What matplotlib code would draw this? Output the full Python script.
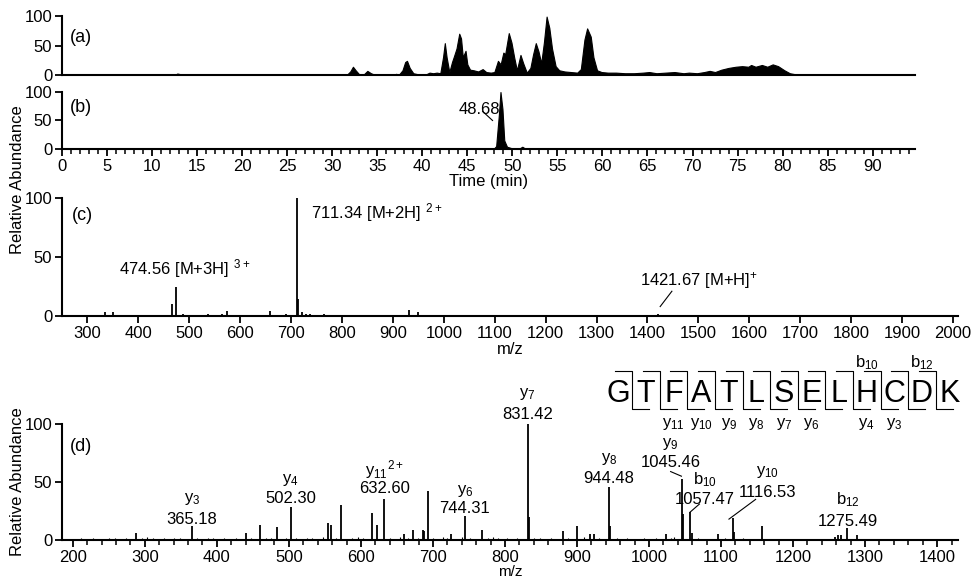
import numpy as np
import matplotlib
matplotlib.use("Agg")
import matplotlib.pyplot as plt

plt.rcParams['font.family'] = ['Liberation Sans', 'DejaVu Sans']
plt.rcParams['mathtext.default'] = 'regular'
plt.rcParams['font.size'] = 12

# (a) total ion chromatogram, time (min) vs relative abundance
time_a = [0.0, 9.7, 9.9, 10.1, 10.8, 11.1, 11.4, 12.5, 12.8, 13.1, 13.5, 14.8, 15.0, 15.3,
          28.8, 29.0, 29.2,
          31.6, 32.0, 32.3, 32.6, 33.0, 33.5, 33.9, 34.3, 34.7,
          36.8, 37.1, 37.4, 37.8, 38.1, 38.3, 38.6, 39.0, 39.6,
          40.4, 40.8, 41.2, 41.6, 42.0, 42.3, 42.5, 42.7, 43.0, 43.3, 43.5, 43.8, 44.1, 44.3,
          44.5, 44.8, 45.0, 45.3, 45.7, 46.2, 46.7, 47.1, 47.6,
          48.0, 48.4, 48.7, 49.0, 49.2, 49.6, 49.9, 50.2, 50.5, 50.9, 51.2, 51.6, 52.0, 52.3,
          52.6, 52.9, 53.2, 53.5, 53.8, 54.1, 54.4, 54.8, 55.2, 55.8, 56.5, 57.2,
          57.6, 58.0, 58.3, 58.7, 59.0, 59.4, 59.9,
          60.6, 61.5, 62.5, 63.5, 64.5, 65.2, 66.0, 67.0, 68.0, 69.0, 69.6, 70.5, 71.3, 71.9, 72.5,
          73.2, 74.0, 74.8, 75.5, 76.2, 76.5, 77.0, 77.7, 78.3, 78.9, 79.5, 80.2, 80.8, 81.5, 82.2, 94.7]
abund_a = [0, 0, 1, 0, 0, 1.5, 0, 0, 2.5, 1.5, 0.5, 0, 1.2, 0,
           0, 1, 0,
           0, 6, 14, 8, 1, 1, 7, 3, 0.5,
           0.5, 2, 0.5, 8, 22, 24, 12, 3, 1,
           1, 4, 3, 4, 3, 30, 54, 30, 5, 22, 31, 45, 70, 62,
           30, 41, 18, 9, 8, 6, 10, 5, 4,
           5, 24, 18, 38, 35, 71, 55, 30, 8, 34, 20, 4, 12, 35,
           54, 40, 20, 55, 99, 80, 45, 15, 8, 6, 5, 4,
           10, 60, 79, 65, 30, 8, 5,
           4, 4, 3, 3, 4, 5, 3, 4, 5, 3, 4, 3, 5, 7, 5,
           9, 12, 14, 15, 14, 17, 14, 17, 14, 18, 15, 8, 3, 1, 0, 0]

# (b) extracted ion chromatogram
time_b = [0.0, 47.9, 48.2, 48.5, 48.68, 48.9, 49.1, 49.4, 50.0, 50.8, 51.1, 51.4, 51.8, 94.7]
abund_b = [0, 0, 5, 60, 100, 70, 15, 4, 1, 1, 4, 1, 0, 0]

# (c) full MS spectrum
mz_c = [311, 334, 351, 383, 466, 474.56, 487, 520, 537, 564, 575, 659, 690,
        711.34, 713, 721, 730, 738, 765, 920, 932, 950, 1421.67, 1850]
int_c = [1, 3, 3, 1, 10, 25, 2, 1, 2, 2, 4, 4, 2,
         100, 14, 3, 2, 2, 2, 1, 5, 3, 1.5, 0.5]

# (d) MS/MS spectrum
mz_d = [288, 365.18, 441, 460, 483, 502.30, 555, 558, 572, 615, 622, 632.60, 660, 672,
        686, 688, 693, 725, 744.31, 768, 831.42, 833, 881, 900, 918, 923, 944.48, 946,
        1024, 1045.46, 1047, 1057.47, 1059, 1096, 1116.53, 1118, 1156.7,
        1258, 1262, 1266, 1275.49, 1289, 1320, 1360]
int_d = [6, 12, 6, 13, 11, 28.5, 15, 13, 30.5, 23, 13, 35.5, 5, 9,
         9, 8, 42, 5, 20.5, 9, 100, 20, 8, 12, 5, 5, 45.5, 12,
         5, 53, 22, 24, 6, 5, 19, 7, 12,
         3, 4, 4, 10.5, 4, 1, 1]
noise_mz_d = [205, 212, 220, 228, 236, 243, 250, 258, 266, 274, 281, 296, 303, 311, 318,
              326, 333, 341, 349, 356, 372, 380, 388, 395, 403, 410, 418, 426, 433, 448,
              455, 468, 475, 490, 496, 510, 517, 525, 532, 540, 547, 565, 580, 588, 596,
              603, 608, 640, 648, 654, 665, 679, 700, 707, 714, 720, 733, 740, 752, 758,
              776, 783, 790, 797, 803, 810, 817, 824, 840, 848, 856, 864, 872, 888, 895,
              910, 930, 955, 962, 970, 978, 985, 993, 1000, 1010, 1018, 1030, 1035, 1068,
              1075, 1083, 1105, 1130, 1138, 1145, 1170, 1185, 1200, 1240, 1300, 1340, 1390]
noise_int_d = [1, 2, 1, 2, 1, 1, 2, 2, 1, 2, 1, 2, 3, 2, 1,
               2, 1, 2, 2, 1, 2, 1, 2, 2, 1, 2, 1, 2, 1, 2,
               1, 2, 2, 1, 2, 2, 1, 2, 2, 1, 3, 2, 1, 2, 3,
               2, 1, 2, 1, 3, 2, 2, 2, 1, 3, 2, 1, 3, 2, 1,
               2, 3, 2, 1, 2, 1, 2, 1, 2, 2, 1, 2, 1, 2, 1,
               3, 2, 2, 1, 2, 1, 1, 2, 1, 2, 1, 2, 3, 2,
               1, 1, 2, 2, 1, 1, 1, 1, 1, 1, 1, 1, 1]

sequence = "GTFATLSELHCDK"
y_labels = {2: "11", 3: "10", 4: "9", 5: "8", 6: "7", 7: "6", 9: "4", 10: "3"}
b_labels = {9: "10", 11: "12"}

W, H = 973, 579
fig = plt.figure(figsize=(W / 100, H / 100), dpi=100)


def px_axes(x0, y0, x1, y1):
    return fig.add_axes([x0 / W, 1 - y1 / H, (x1 - x0) / W, (y1 - y0) / H])


def style(ax):
    for s in ['top', 'right']:
        ax.spines[s].set_visible(False)
    for s in ['left', 'bottom']:
        ax.spines[s].set_linewidth(1.5)
    ax.tick_params(which='major', direction='out', length=5, width=1.3, labelsize=12, pad=2)
    ax.tick_params(which='minor', direction='out', length=3.5, width=1.1)
    ax.set_ylim(0, 100)
    ax.set_yticks([0, 50, 100])


ax_a = px_axes(62, 16, 915, 75)
ax_b = px_axes(62, 92, 915, 149)
ax_c = px_axes(62, 198, 958, 316)
ax_d = px_axes(62, 424, 958, 540)
for ax in (ax_a, ax_b, ax_c, ax_d):
    style(ax)

# (a)
ax_a.fill_between(time_a, abund_a, 0, color='black', lw=0.8)
ax_a.set_xlim(0, 94.7)
ax_a.tick_params(axis='x', bottom=False, labelbottom=False)
ax_a.text(0.9, 63, "(a)", fontsize=13, va='center')

# (b)
ax_b.fill_between(time_b, abund_b, 0, color='black', lw=0.8)
ax_b.set_xlim(0, 94.7)
ax_b.set_xticks(np.arange(0, 91, 5))
ax_b.set_xticks(np.arange(0, 95, 1), minor=True)
ax_b.set_xlabel("Time (min)", fontsize=12, labelpad=0)
ax_b.text(0.9, 72, "(b)", fontsize=13, va='center')
ax_b.text(48.6, 70, "48.68", fontsize=12, ha='right', va='center')
ax_b.plot([46.7, 47.8], [66, 50], color='black', lw=0.8)

# (c)
ax_c.vlines(mz_c, 0, int_c, color='black', lw=1.3)
ax_c.set_xlim(250, 2010)
ax_c.set_xticks(np.arange(300, 2001, 100))
ax_c.set_xlabel("m/z", fontsize=12, labelpad=1)
ax_c.text(270, 85, "(c)", fontsize=13, va='center')
ax_c.text(740, 88, "711.34 [M+2H] $^{2+}$", fontsize=12, va='center')
ax_c.text(361, 40, "474.56 [M+3H] $^{3+}$", fontsize=12, va='center')
ax_c.text(1385, 30, "1421.67 [M+H]$^{+}$", fontsize=12, va='center')
ax_c.plot([1448, 1425], [21, 8], color='black', lw=0.8)

# (d)
ax_d.vlines(noise_mz_d, 0, noise_int_d, color='black', lw=0.8)
ax_d.vlines(mz_d, 0, int_d, color='black', lw=1.3)
ax_d.set_xlim(185, 1429)
ax_d.set_xticks(np.arange(200, 1401, 100))
ax_d.set_xticks(np.arange(200, 1430, 20), minor=True)
ax_d.set_xlabel("m/z", fontsize=11, labelpad=0)
ax_d.text(196, 81, "(d)", fontsize=13, va='center')

ion_notes = [
    ("y$_3$", "365.18", 365.18, 35, 18),
    ("y$_4$", "502.30", 502.30, 52, 36),
    ("y$_{11}$$^{2+}$", "632.60", 632.60, 61, 44),
    ("y$_6$", "744.31", 744.31, 42, 27),
    ("y$_7$", "831.42", 831.42, 126, 108),
    ("y$_8$", "944.48", 944.48, 70, 53),
    ("y$_9$", "1045.46", 1030, 83, 67),
    ("b$_{10}$", "1057.47", 1078, 52, 35),
    ("y$_{10}$", "1116.53", 1165, 59, 41),
    ("b$_{12}$", "1275.49", 1275.49, 35, 16),
]
for lab, val, x, y1, y2 in ion_notes:
    ax_d.text(x, y1, lab, fontsize=12, ha='center', va='center')
    ax_d.text(x, y2, val, fontsize=12, ha='center', va='center')
ax_d.plot([1030, 1045], [59, 55], color='black', lw=0.8)
ax_d.plot([1070, 1057], [31, 24], color='black', lw=0.8)
ax_d.plot([1148, 1111], [35, 18], color='black', lw=0.8)

# peptide sequence with fragment markers
x0, dx, hook = 957.6, 38.3, 23.6
for i, aa in enumerate(sequence):
    ax_d.text(x0 + i * dx, 126, aa, fontsize=22, ha='center', va='center')
for i in range(len(sequence) - 1):
    xv = x0 + (i + 0.5) * dx
    ax_d.plot([xv - hook, xv, xv, xv + hook], [146, 146, 113, 113],
              color='black', lw=0.8, clip_on=False)
for i, n in y_labels.items():
    ax_d.text(x0 + i * dx, 100, "y$_{%s}$" % n, fontsize=12, ha='center', va='center')
for i, n in b_labels.items():
    ax_d.text(x0 + i * dx, 153, "b$_{%s}$" % n, fontsize=12, ha='center', va='center')

fig.text(18 / W, 1 - 180 / H, "Relative Abundance", rotation=90, fontsize=12,
         ha='center', va='center')
fig.text(18 / W, 1 - 482 / H, "Relative Abundance", rotation=90, fontsize=12,
         ha='center', va='center')

fig.savefig("out.png", dpi=100)
